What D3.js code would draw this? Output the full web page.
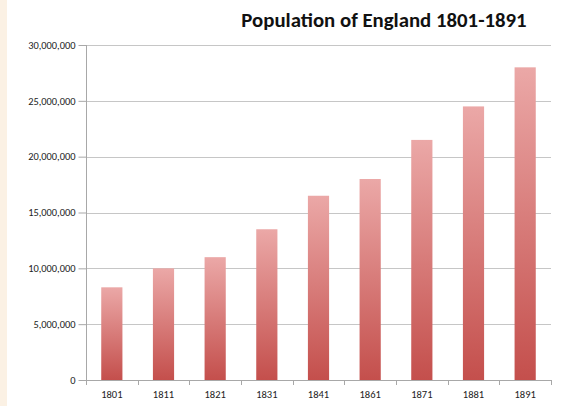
<!DOCTYPE html>
<html><head><meta charset="utf-8">
<script src="https://cdn.jsdelivr.net/npm/d3@7"></script>
<style>body{margin:0;background:#fff;}svg{display:block;}</style>
</head><body>
<svg id="c" width="574" height="406"></svg>
<script>
const categories = ["1801","1811","1821","1831","1841","1861","1871","1881","1891"];
const population = [8300000, 10000000, 11000000, 13500000, 16500000, 18000000, 21500000, 24500000, 28000000];
const yTicks = [0, 5000000, 10000000, 15000000, 20000000, 25000000, 30000000];
const title = "Population of England 1801-1891";

(function(){
const svg = d3.select("#c");
svg.append("rect").attr("x",0).attr("y",0).attr("width",574).attr("height",406).attr("fill","#fff");
svg.append("rect").attr("x",0).attr("y",0).attr("width",7).attr("height",406).attr("fill","#fbf1e4");

const pl = 86, pr = 551, pt = 45, pb = 380;
const x = d3.scaleBand().domain(categories).range([pl, pr]).paddingInner(0.59).paddingOuter(0.295);
const y = d3.scaleLinear().domain([0, 30000000]).range([pb, pt]);

const defs = svg.append("defs");
const g = defs.append("linearGradient").attr("id","bar").attr("x1",0).attr("y1",0).attr("x2",0).attr("y2",1);
g.append("stop").attr("offset","0%").attr("stop-color","#eba8a7");
g.append("stop").attr("offset","100%").attr("stop-color","#c44f4c");

svg.append("g").selectAll("line").data(yTicks.filter(d=>d>0)).join("line")
  .attr("x1",pl).attr("x2",pr).attr("y1",d=>Math.round(y(d))+0.5).attr("y2",d=>Math.round(y(d))+0.5)
  .attr("stroke","#c6c6c6").attr("stroke-width",1);

svg.append("g").selectAll("rect").data(categories).join("rect")
  .attr("x",(d)=>x(d)).attr("width",x.bandwidth())
  .attr("y",(d,i)=>y(population[i])).attr("height",(d,i)=>pb-y(population[i]))
  .attr("fill","url(#bar)");

const font = "Carlito, Lato, 'Open Sans', sans-serif";
const ya = svg.append("g").attr("transform",`translate(${pl+0.5},0)`)
  .call(d3.axisLeft(y).tickValues(yTicks).tickSize(8).tickPadding(3).tickFormat(d3.format(",")));
ya.select(".domain").attr("stroke","#a8a8a8").attr("d",`M0,${pt}V${pb}`);
ya.selectAll(".tick line").attr("stroke","#a8a8a8");
ya.selectAll(".tick text").attr("font-family",font).attr("font-size","10.4px").attr("fill","#222");

const xa = svg.append("g").attr("transform",`translate(0,${pb+0.5})`)
  .call(d3.axisBottom(x).tickSize(0).tickPadding(10.5));
xa.select(".domain").attr("stroke","#a8a8a8").attr("d",`M${pl},0H${pr}`);
xa.selectAll(".tick text").attr("font-family",font).attr("font-size","10.5px").attr("fill","#222");
svg.append("g").selectAll("line").data(d3.range(categories.length+1)).join("line")
  .attr("x1",i=>Math.round(pl+i*(pr-pl)/categories.length)+0.5)
  .attr("x2",i=>Math.round(pl+i*(pr-pl)/categories.length)+0.5)
  .attr("y1",pb).attr("y2",pb+5).attr("stroke","#a8a8a8");

svg.append("text").attr("x",384).attr("y",27).attr("text-anchor","middle")
  .attr("font-family",font).attr("font-weight","bold").attr("font-size","20.8px").attr("fill","#111")
  .text(title);
})();
</script>
</body></html>
